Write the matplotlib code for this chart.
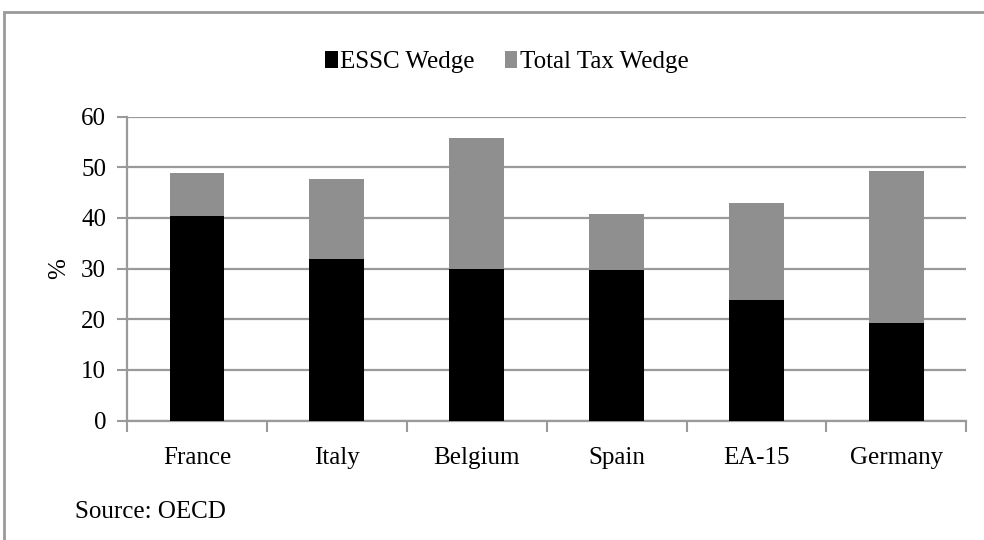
import numpy as np
import matplotlib
matplotlib.use("Agg")
import matplotlib.pyplot as plt
from matplotlib.patches import Rectangle

countries = ["France", "Italy", "Belgium", "Spain", "EA-15", "Germany"]
essc_wedge = [40.3, 32.0, 29.9, 29.7, 23.8, 19.3]
total_tax_wedge = [48.9, 47.6, 55.7, 40.7, 42.9, 49.2]

plt.rcParams['font.family'] = ['Liberation Serif', 'DejaVu Serif']

grey_line = '#9a9a9a'
grey_bar = '#8f8f8f'

fig = plt.figure(figsize=(9.84, 5.4), dpi=100)
ax = fig.add_axes([0.129, 0.221, 0.853, 0.563])

x = np.arange(len(countries)) + 0.5
rest = np.array(total_tax_wedge) - np.array(essc_wedge)

ax.bar(x, essc_wedge, width=0.39, color='black', label='ESSC Wedge', zorder=3)
ax.bar(x, rest, width=0.39, bottom=essc_wedge, color=grey_bar,
       label='Total Tax Wedge', zorder=3)

ax.set_xlim(0, len(countries))
ax.set_ylim(0, 60)
ax.set_yticks(range(0, 61, 10))
ax.yaxis.grid(True, color=grey_line, linewidth=1.6, zorder=0)

# category boundaries get the tick marks, names sit in between
ax.set_xticks(range(len(countries) + 1))
ax.set_xticklabels([])
ax.set_xticks(x, minor=True)
ax.set_xticklabels(countries, minor=True)
ax.tick_params(axis='x', which='major', direction='out', length=8,
               width=1.5, color=grey_line)
ax.tick_params(axis='x', which='minor', length=0, pad=19, labelsize=18)
ax.tick_params(axis='y', direction='out', length=7, width=1.5,
               color=grey_line, pad=8, labelsize=18)

for side in ['top', 'right']:
    ax.spines[side].set_visible(False)
for side in ['left', 'bottom']:
    ax.spines[side].set_color(grey_line)
    ax.spines[side].set_linewidth(1.6)

ax.set_ylabel('%', fontsize=18, labelpad=8)

fig.legend(loc='center', bbox_to_anchor=(0.515, 0.885), ncol=2, frameon=False,
           fontsize=18, handlelength=0.5, handleheight=0.7,
           handletextpad=0.1, columnspacing=1.2)

fig.text(0.076, 0.052, 'Source: OECD', fontsize=18, va='center')

# outer frame, runs off the right and bottom edges
fig.patches.append(Rectangle((0.004, -0.1), 1.2, 1.078, transform=fig.transFigure,
                             fill=False, edgecolor=grey_line, linewidth=2))

fig.savefig('out.png', dpi=100)
